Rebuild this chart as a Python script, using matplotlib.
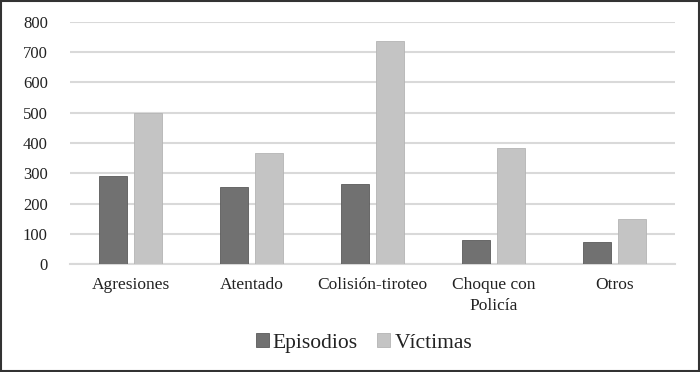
import numpy as np
import matplotlib.pyplot as plt
from matplotlib.patches import Rectangle

categories = ['Agresiones', 'Atentado', 'Colisión-tiroteo', 'Choque con\nPolicía', 'Otros']
episodios = [291, 254, 266, 80, 74]
victimas = [498, 366, 738, 385, 148]
yticks = [0, 100, 200, 300, 400, 500, 600, 700, 800]

plt.rcParams['font.family'] = ['Liberation Serif', 'DejaVu Serif']

fig = plt.figure(figsize=(7, 3.72), dpi=100)
ax = fig.add_axes([0.1, 0.29, 0.864, 0.651])

x = np.arange(len(categories))
w = 0.23
off = 0.145
ax.bar(x - off, episodios, w, color='#717171', edgecolor='#5a5a5a', linewidth=0.6,
       label='Episodios', zorder=3)
ax.bar(x + off, victimas, w, color='#c4c4c4', edgecolor='#b4b4b4', linewidth=0.6,
       label='Víctimas', zorder=3)

ax.set_xlim(-0.5, len(categories) - 0.5)
ax.set_ylim(0, 800)
ax.set_yticks(yticks)
ax.set_yticklabels([str(v) for v in yticks], fontsize=12, color='#222222')
ax.set_xticks(x)
ax.set_xticklabels(categories, fontsize=12.5, color='#222222', linespacing=1.45)
ax.tick_params(axis='both', length=0)
ax.tick_params(axis='y', pad=16)
ax.tick_params(axis='x', pad=9)

ax.grid(axis='y', color='#d9d9d9', linewidth=1.5, zorder=0)
for s in ['top', 'right', 'left']:
    ax.spines[s].set_visible(False)
ax.spines['bottom'].set_color('#d9d9d9')
ax.spines['bottom'].set_linewidth(1.5)

fig.legend(loc='center', bbox_to_anchor=(0.52, 0.078), ncol=2, frameon=False,
           fontsize=15.5, handlelength=0.6, handleheight=0.6, handletextpad=0.2,
           columnspacing=0.9, labelcolor='#222222')

fig.patches.append(Rectangle((0.002, 0.003), 0.996, 0.994, transform=fig.transFigure,
                             fill=False, edgecolor='#333333', linewidth=1.5))

fig.savefig('out.png', dpi=100)
